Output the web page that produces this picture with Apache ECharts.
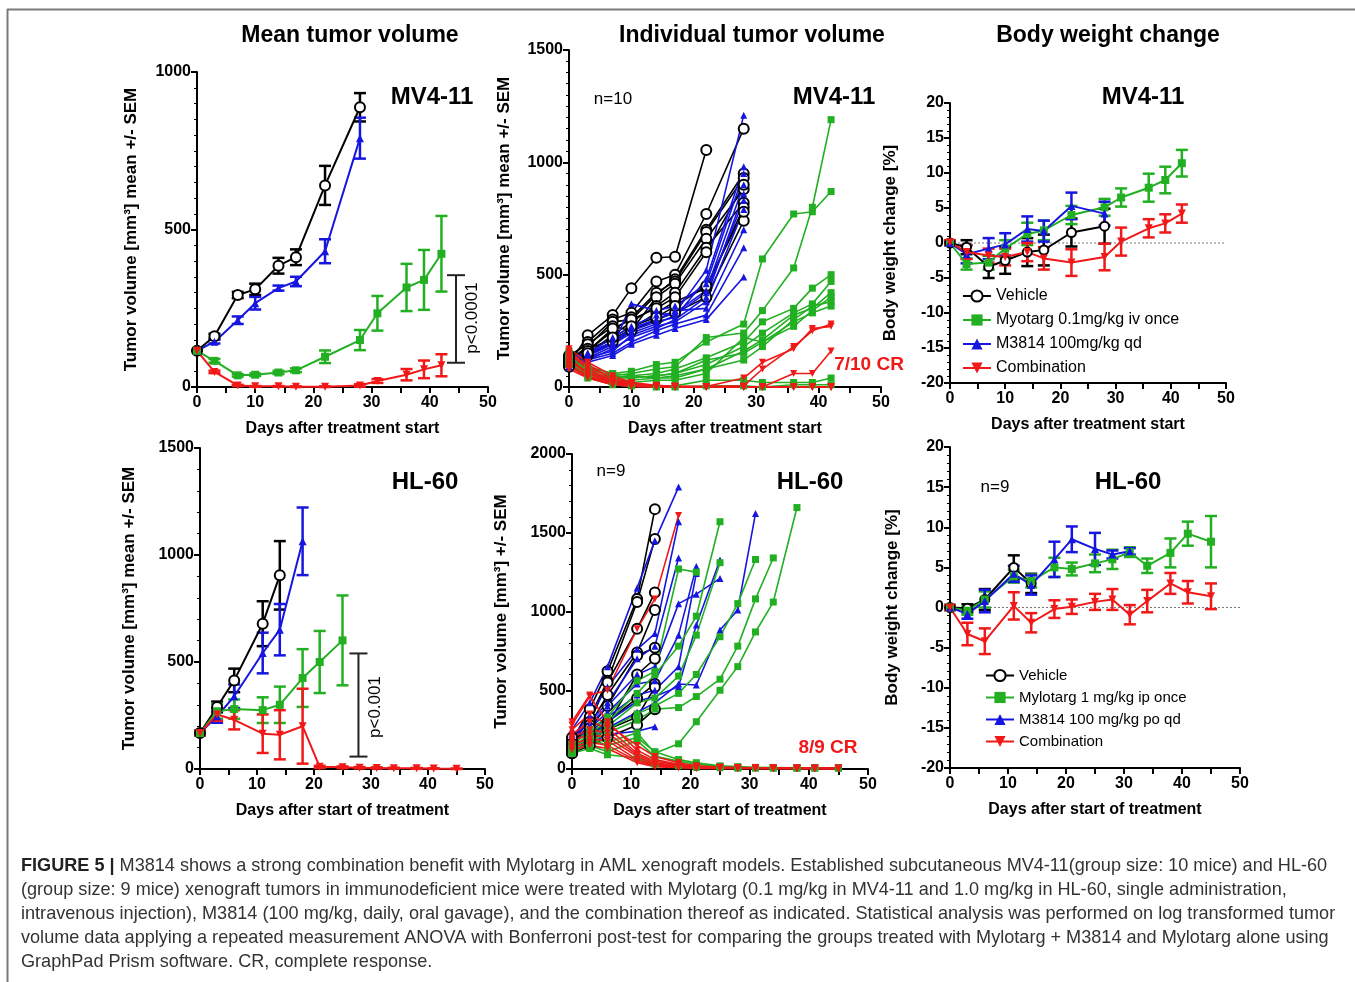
<!DOCTYPE html>
<html>
<head>
<meta charset="utf-8">
<script src="https://cdn.jsdelivr.net/npm/echarts@6/dist/echarts.min.js"></script>
<style>
  html, body { margin: 0; padding: 0; background: #fff; }
  #fig { width: 1355px; height: 982px; }
</style>
</head>
<body>
<div id="fig"></div>
<script>
// measurement days
const daysMV = [0, 3, 7, 10, 14, 17, 22, 28, 31, 36, 39, 42];
const daysHL = [0, 3, 6, 11, 14, 18, 21, 25, 28, 31, 34, 38, 41, 45];

// MV4-11 mean tumor volume (mm3) and SEM
const mvMeanVehicle = [115, 161, 292, 310, 385, 412, 640, 888];
const mvSemVehicle = [0, 8, 10, 18, 25, 25, 62, 45];
const mvMeanM3814 = [115, 144, 212, 266, 314, 335, 431, 790];
const mvSemM3814 = [0, 6, 12, 20, 8, 15, 38, 65];
const mvMeanMylotarg = [115, 83, 37, 39, 46, 53, 96, 149, 234, 316, 340, 423];
const mvSemMylotarg = [0, 6, 4, 4, 5, 6, 20, 32, 55, 75, 95, 120];
const mvMeanCombo = [115, 48, 5, 2, 2, 1, 1, 5, 19, 39, 56, 69];
const mvSemCombo = [0, 4, 2, 1, 1, 1, 1, 4, 6, 18, 28, 35];

// MV4-11 individual tumor volume, one row per mouse
const mvIndVehicle = [
  [100, 230, 320, 440, 575, 580, 1055],
  [130, 200, 300, 330, 470, 500, 770, 1150],
  [120, 180, 290, 300, 410, 480, 700, 950],
  [110, 160, 250, 310, 420, 470, 690, 930],
  [140, 190, 270, 250, 400, 460, 660, 880],
  [100, 150, 230, 290, 360, 420, 620, 820],
  [120, 170, 210, 260, 330, 380, 440, 800],
  [90, 140, 200, 250, 300, 330, 400, 740],
  [110, 160, 260, 300, 350, 400, 600, 900],
  [130, 150, 220, 270, 310, 360, 450, 780]
];
const mvIndM3814 = [
  [120, 150, 200, 260, 300, 330, 520, 1210],
  [110, 140, 190, 250, 290, 310, 480, 980],
  [100, 130, 180, 370, 340, 360, 460, 950],
  [130, 150, 220, 270, 320, 330, 430, 900],
  [90, 120, 170, 220, 260, 300, 400, 860],
  [110, 140, 190, 240, 280, 320, 420, 830],
  [100, 130, 160, 230, 270, 290, 380, 790],
  [120, 150, 200, 260, 300, 340, 350, 700],
  [100, 120, 150, 200, 250, 280, 320, 620],
  [90, 110, 140, 190, 230, 260, 300, 490]
];
const mvIndMylotarg = [
  [150, 90, 60, 70, 100, 110, 200, 280, 570, 770, 780, 870],
  [140, 80, 50, 60, 80, 90, 220, 240, 340, 530, 800, 1190],
  [130, 70, 40, 50, 60, 80, 130, 200, 290, 350, 440, 500],
  [120, 80, 50, 40, 50, 60, 100, 180, 240, 330, 370, 470],
  [110, 70, 30, 30, 40, 40, 80, 160, 210, 320, 350, 420],
  [100, 60, 40, 40, 50, 60, 120, 150, 200, 270, 340, 400],
  [160, 90, 60, 50, 40, 50, 80, 120, 180, 300, 360, 380],
  [120, 60, 30, 20, 30, 30, 60, 220, 200, 290, 330, 360],
  [110, 50, 20, 10, 5, 5, 30, 30, 20, 20, 20, 40],
  [100, 40, 10, 5, 0, 0, 5, 5, 0, 10, 10, 10]
];
const mvIndCombo = [
  [130, 60, 20, 10, 5, 3, 2, 40, 110, 170, 260, 270],
  [160, 90, 40, 15, 5, 3, 2, 5, 80, 180, 250, 280],
  [110, 70, 25, 10, 3, 2, 1, 0, 0, 60, 60, 160],
  [150, 80, 30, 10, 2, 1, 0, 0, 0, 0, 0, 0],
  [120, 60, 20, 5, 2, 0, 0, 0, 0, 0, 0, 0],
  [100, 50, 15, 5, 0, 0, 0, 0, 0, 0, 0, 0],
  [140, 100, 35, 15, 5, 2, 0, 0, 0, 0, 0, 0],
  [90, 45, 10, 3, 0, 0, 0, 0, 0, 0, 0, 0],
  [170, 110, 50, 20, 8, 3, 0, 0, 0, 0, 0, 0],
  [80, 40, 10, 2, 0, 0, 0, 0, 0, 0, 0, 0]
];

// MV4-11 body weight change (%) and SEM
const mvBwVehicle = [0, -0.6, -3.4, -2.5, -1.3, -1.0, 1.5, 2.4];
const mvBwSemVehicle = [0.3, 1.0, 1.6, 1.9, 2.0, 2.2, 2.0, 2.5];
const mvBwMylotarg = [0, -3.0, -2.8, -0.8, 1.3, 1.8, 4.0, 5.1, 6.5, 7.9, 9.0, 11.4];
const mvBwSemMylotarg = [0.3, 0.8, 1.0, 1.2, 1.6, 1.4, 1.3, 1.2, 1.3, 2.0, 1.9, 1.9];
const mvBwM3814 = [0, -1.6, -0.8, -0.2, 2.0, 1.7, 5.3, 4.2];
const mvBwSemM3814 = [0.3, 1.3, 1.5, 1.6, 1.8, 1.5, 1.9, 1.7];
const mvBwCombo = [0.1, -1.3, -1.8, -2.0, -1.3, -2.2, -2.8, -2.0, 0.2, 2.1, 2.8, 4.2];
const mvBwSemCombo = [0.3, 1.0, 1.0, 1.2, 1.3, 1.6, 1.9, 1.9, 2.0, 1.3, 1.3, 1.3];

// HL-60 mean tumor volume (mm3) and SEM
const hlMeanVehicle = [168, 290, 414, 679, 905];
const hlSemVehicle = [10, 25, 55, 105, 160];
const hlMeanM3814 = [168, 246, 340, 542, 651, 1064];
const hlSemM3814 = [10, 30, 55, 95, 120, 158];
const hlMeanMylotarg = [168, 270, 280, 275, 300, 425, 500, 601];
const hlSemMylotarg = [10, 35, 45, 60, 85, 135, 145, 210];
const hlMeanCombo = [168, 255, 230, 165, 160, 200, 10, 8, 6, 5, 4, 3, 2, 1];
const hlSemCombo = [10, 30, 45, 90, 115, 175, 5, 4, 3, 3, 2, 2, 1, 1];

// HL-60 individual tumor volume, one row per mouse
const hlIndVehicle = [
  [180, 380, 620, 1080, 1650],
  [150, 330, 560, 1060, 1460],
  [200, 300, 550, 890, 1120],
  [160, 280, 470, 740, 1010],
  [140, 260, 400, 720, 770],
  [120, 220, 300, 450, 540],
  [100, 180, 250, 330, 520],
  [130, 200, 280, 600, 700],
  [100, 150, 200, 280, 380]
];
const hlIndM3814 = [
  [250, 420, 650, 1150, 1450, 1790],
  [200, 340, 520, 760, 860, 1570],
  [180, 300, 420, 700, 780, 1340],
  [220, 280, 400, 600, 650, 1050, 1110, 1210],
  [150, 260, 360, 540, 560, 850, 1285],
  [170, 230, 330, 470, 500, 650, 1242],
  [140, 200, 300, 430, 460, 523, 914, 1327],
  [130, 190, 260, 360, 420, 540, 533, 882, 1010, 1623],
  [120, 160, 220, 240, 269]
];
const hlIndMylotarg = [
  [150, 250, 330, 560, 620, 1270, 1250],
  [130, 230, 300, 480, 600, 780, 970, 1570],
  [120, 210, 270, 420, 450, 590, 850, 1310],
  [110, 190, 250, 350, 400, 480, 600, 840, 1050, 1330],
  [100, 170, 230, 310, 380, 390, 460, 570, 780, 1080, 1340],
  [140, 200, 170, 230, 100, 160, 300, 500, 650, 870, 1060, 1660],
  [120, 150, 110, 180, 80, 50, 30, 15, 10, 10, 8, 8, 8, 8],
  [100, 130, 90, 70, 30, 20, 10, 8, 5, 5, 5, 5, 5, 5],
  [160, 190, 150, 200, 110, 60, 40, 20, 15, 10, 10, 8, 8, 8]
];
const hlIndCombo = [
  [300, 470, 500, 890, 1080, 1610],
  [280, 460, 300, 120, 60, 30, 15, 10, 8, 8, 6, 6, 5, 5],
  [250, 350, 280, 150, 80, 40, 20, 12, 10, 8, 6, 5, 5, 5],
  [220, 300, 260, 100, 50, 25, 12, 10, 8, 6, 5, 5, 4, 4],
  [200, 250, 230, 90, 40, 20, 10, 8, 6, 5, 5, 4, 4, 4],
  [180, 220, 200, 80, 30, 15, 8, 6, 5, 5, 4, 4, 3, 3],
  [160, 190, 180, 60, 25, 12, 6, 5, 5, 4, 4, 3, 3, 3],
  [140, 170, 150, 50, 20, 10, 5, 4, 4, 3, 3, 3, 2, 2],
  [120, 150, 130, 40, 15, 8, 4, 3, 3, 3, 2, 2, 2, 2]
];

// HL-60 body weight change (%) and SEM
const hlBwVehicle = [0, -0.1, 1.0, 5.0, 3.0];
const hlBwSemVehicle = [0.3, 0.5, 1.3, 1.5, 1.2];
const hlBwMylotarg = [0, -0.4, 1.0, 3.9, 3.3, 5.0, 4.8, 5.5, 6.0, 6.9, 5.2, 6.8, 9.2, 8.2];
const hlBwSemMylotarg = [0.3, 0.5, 1.0, 0.8, 0.8, 1.2, 0.8, 1.1, 1.2, 0.6, 0.9, 1.8, 1.5, 3.2];
const hlBwM3814 = [0, -0.8, 0.8, 4.2, 2.8, 6.0, 8.5, 7.3, 6.6, 7.0];
const hlBwSemM3814 = [0.3, 0.6, 1.4, 1.0, 1.2, 2.2, 1.6, 2.0, 0.5, 0.4];
const hlBwCombo = [0, -3.3, -4.2, 0.2, -1.9, -0.2, 0.1, 0.7, 1.0, -0.9, 0.8, 3.0, 1.9, 1.4];
const hlBwSemCombo = [0.3, 1.4, 1.6, 1.7, 1.2, 1.1, 0.9, 1.0, 1.3, 1.2, 1.4, 1.3, 1.4, 1.6];

// significance brackets: [day, low, high]
const mvBracket = [[44.5, 77, 355]];
const hlBracket = [[27.8, 58, 540]];

const legendMV = ['Vehicle', 'Myotarg 0.1mg/kg iv once', 'M3814 100mg/kg qd', 'Combination'];
const legendHL = ['Vehicle', 'Mylotarg 1 mg/kg ip once', 'M3814 100 mg/kg po qd', 'Combination'];

const captionLines = [
  '{b|FIGURE 5 |} M3814 shows a strong combination benefit with Mylotarg in AML xenograft models. Established subcutaneous MV4-11(group size: 10 mice) and HL-60',
  '(group size: 9 mice) xenograft tumors in immunodeficient mice were treated with Mylotarg (0.1 mg/kg in MV4-11 and 1.0 mg/kg in HL-60, single administration,',
  'intravenous injection), M3814 (100 mg/kg, daily, oral gavage), and the combination thereof as indicated. Statistical analysis was performed on log transformed tumor',
  'volume data applying a repeated measurement ANOVA with Bonferroni post-test for comparing the groups treated with Mylotarg + M3814 and Mylotarg alone using',
  'GraphPad Prism software. CR, complete response.'
];

const FONT = 'Liberation Sans, Arial, sans-serif';
const BLACK = '#000000', GREEN = '#22b022', BLUE = '#1616e0', RED = '#f01818';
const DOWN_TRI = 'path://M0,0L10,0L5,9Z';

const grp = {
  vehicle: { color: BLACK, symbol: 'emptyCircle', bw: 2 },
  mylotarg: { color: GREEN, symbol: 'rect', bw: 0 },
  m3814: { color: BLUE, symbol: 'triangle', bw: 0 },
  combo: { color: RED, symbol: DOWN_TRI, bw: 0 }
};

function pts(days, vals) {
  return vals.map((v, i) => [days[i], v]);
}
function errPts(days, vals, sem) {
  return vals.map((v, i) => [days[i], v - sem[i], v + sem[i]]);
}

function errRender(capHalf, lw) {
  return function (params, api) {
    const x = api.value(0);
    const lo = api.coord([x, api.value(1)]);
    const hi = api.coord([x, api.value(2)]);
    const st = { stroke: api.visual('color'), lineWidth: lw };
    return {
      type: 'group',
      children: [
        { type: 'line', shape: { x1: lo[0], y1: lo[1], x2: hi[0], y2: hi[1] }, style: st },
        { type: 'line', shape: { x1: hi[0] - capHalf, y1: hi[1], x2: hi[0] + capHalf, y2: hi[1] }, style: st },
        { type: 'line', shape: { x1: lo[0] - capHalf, y1: lo[1], x2: lo[0] + capHalf, y2: lo[1] }, style: st }
      ]
    };
  };
}

const series = [];

function meanGroup(gi, name, g, days, vals, sem, size, cap) {
  series.push({
    name: name, type: 'line', xAxisIndex: gi, yAxisIndex: gi, silent: true,
    data: pts(days, vals), symbol: g.symbol, symbolSize: size, z: 3,
    lineStyle: { color: g.color, width: 2 },
    itemStyle: { color: g.color, borderColor: g.color, borderWidth: g.bw }
  });
  series.push({
    name: name + ' SEM', type: 'custom', xAxisIndex: gi, yAxisIndex: gi, silent: true,
    renderItem: errRender(cap, 2.5), itemStyle: { color: g.color }, z: 2,
    encode: { x: 0, y: [1, 2] }, data: errPts(days, vals, sem), clip: false
  });
}

function indGroup(gi, key, g, days, rows, size) {
  rows.forEach((vals, k) => {
    series.push({
      name: key + k, type: 'line', xAxisIndex: gi, yAxisIndex: gi, silent: true,
      data: pts(days, vals), symbol: g.symbol, symbolSize: g.symbol === 'emptyCircle' ? size + 2 : size,
      lineStyle: { color: g.color, width: 1.6 },
      itemStyle: { color: g.color, borderColor: g.color, borderWidth: g.bw }
    });
  });
}

function zeroLine(gi) {
  series.push({
    name: 'zero' + gi, type: 'line', xAxisIndex: gi, yAxisIndex: gi, silent: true,
    data: [[0, 0], [50, 0]], symbol: 'none', z: 1,
    lineStyle: { color: '#777', width: 1, type: [2, 2] }
  });
}

function bracket(gi, data) {
  series.push({
    name: 'bracket' + gi, type: 'custom', xAxisIndex: gi, yAxisIndex: gi, silent: true,
    renderItem: errRender(9, 2), itemStyle: { color: '#222' },
    encode: { x: 0, y: [1, 2] }, data: data
  });
}

// panel 0: MV4-11 mean
meanGroup(0, 'mvMeanVehicle', grp.vehicle, daysMV, mvMeanVehicle, mvSemVehicle, 10, 6);
meanGroup(0, 'mvMeanM3814', grp.m3814, daysMV, mvMeanM3814, mvSemM3814, 8, 6);
meanGroup(0, 'mvMeanMylotarg', grp.mylotarg, daysMV, mvMeanMylotarg, mvSemMylotarg, 8, 6);
meanGroup(0, 'mvMeanCombo', grp.combo, daysMV, mvMeanCombo, mvSemCombo, 8, 6);
bracket(0, mvBracket);
// panel 1: MV4-11 individual
indGroup(1, 'mvIndVehicle', grp.vehicle, daysMV, mvIndVehicle, 8);
indGroup(1, 'mvIndM3814', grp.m3814, daysMV, mvIndM3814, 7);
indGroup(1, 'mvIndMylotarg', grp.mylotarg, daysMV, mvIndMylotarg, 7);
indGroup(1, 'mvIndCombo', grp.combo, daysMV, mvIndCombo, 7);
// panel 2: MV4-11 body weight
zeroLine(2);
meanGroup(2, legendMV[0], grp.vehicle, daysMV, mvBwVehicle, mvBwSemVehicle, 9, 6);
meanGroup(2, legendMV[1], grp.mylotarg, daysMV, mvBwMylotarg, mvBwSemMylotarg, 8, 6);
meanGroup(2, legendMV[2], grp.m3814, daysMV, mvBwM3814, mvBwSemM3814, 8, 6);
meanGroup(2, legendMV[3], grp.combo, daysMV, mvBwCombo, mvBwSemCombo, 8, 6);
// panel 3: HL-60 mean
meanGroup(3, 'hlMeanVehicle', grp.vehicle, daysHL, hlMeanVehicle, hlSemVehicle, 10, 6);
meanGroup(3, 'hlMeanM3814', grp.m3814, daysHL, hlMeanM3814, hlSemM3814, 8, 6);
meanGroup(3, 'hlMeanMylotarg', grp.mylotarg, daysHL, hlMeanMylotarg, hlSemMylotarg, 8, 6);
meanGroup(3, 'hlMeanCombo', grp.combo, daysHL, hlMeanCombo, hlSemCombo, 8, 6);
bracket(3, hlBracket);
// panel 4: HL-60 individual
indGroup(4, 'hlIndVehicle', grp.vehicle, daysHL, hlIndVehicle, 8);
indGroup(4, 'hlIndM3814', grp.m3814, daysHL, hlIndM3814, 7);
indGroup(4, 'hlIndMylotarg', grp.mylotarg, daysHL, hlIndMylotarg, 7);
indGroup(4, 'hlIndCombo', grp.combo, daysHL, hlIndCombo, 7);
// panel 5: HL-60 body weight
zeroLine(5);
meanGroup(5, legendHL[0], grp.vehicle, daysHL, hlBwVehicle, hlBwSemVehicle, 9, 6);
meanGroup(5, legendHL[1], grp.mylotarg, daysHL, hlBwMylotarg, hlBwSemMylotarg, 8, 6);
meanGroup(5, legendHL[2], grp.m3814, daysHL, hlBwM3814, hlBwSemM3814, 8, 6);
meanGroup(5, legendHL[3], grp.combo, daysHL, hlBwCombo, hlBwSemCombo, 8, 6);

// grid boxes: left, top, width, height (px)
const boxes = [
  [197, 72, 291, 315],
  [569, 50, 312, 337],
  [950, 103, 276, 280],
  [200, 448, 285, 321],
  [572, 454, 296, 315],
  [950, 447, 290, 321]
];
const yRanges = [
  { min: 0, max: 1000, interval: 500, minor: 10 },
  { min: 0, max: 1500, interval: 500, minor: 10 },
  { min: -20, max: 20, interval: 5, minor: 5 },
  { min: 0, max: 1500, interval: 500, minor: 5 },
  { min: 0, max: 2000, interval: 500, minor: 5 },
  { min: -20, max: 20, interval: 5, minor: 5 }
];
const yNames = [
  'Tumor volume [mm³] mean +/- SEM',
  'Tumor volume [mm³] mean +/- SEM',
  'Body weight change [%]',
  'Tumor volume [mm³] mean +/- SEM',
  'Tumor volume [mm³] +/- SEM',
  'Body weight change [%]'
];
const yGaps = [57, 56, 51, 62, 62, 49];
const xNames = [
  'Days after treatment start', 'Days after treatment start', 'Days after treatment start',
  'Days after start of treatment', 'Days after start of treatment', 'Days after start of treatment'
];

const axisLine = { show: true, onZero: false, lineStyle: { color: '#000', width: 2 } };
const axisTick = { show: true, length: 6, lineStyle: { color: '#000', width: 2 } };
const label = { color: '#000', fontSize: 16, fontWeight: 'bold', fontFamily: FONT, formatter: v => String(v) };

const option = {
  animation: false,
  backgroundColor: '#fff',
  textStyle: { fontFamily: FONT },
  grid: boxes.map(b => ({ left: b[0], top: b[1], width: b[2], height: b[3] })),
  xAxis: boxes.map((b, i) => ({
    type: 'value', gridIndex: i, min: 0, max: 50, interval: 10,
    axisLine: axisLine, axisTick: axisTick,
    minorTick: { show: true, splitNumber: 2, length: 6, lineStyle: { color: '#000', width: 2 } },
    splitLine: { show: false },
    axisLabel: Object.assign({ margin: 8 }, label),
    name: xNames[i], nameLocation: 'middle', nameGap: 34,
    nameTextStyle: { color: '#000', fontSize: 16, fontWeight: 'bold', fontFamily: FONT }
  })),
  yAxis: boxes.map((b, i) => ({
    type: 'value', gridIndex: i, min: yRanges[i].min, max: yRanges[i].max, interval: yRanges[i].interval,
    axisLine: axisLine, axisTick: axisTick,
    minorTick: { show: true, splitNumber: yRanges[i].minor, length: 3, lineStyle: { color: '#000', width: 1 } },
    splitLine: { show: false },
    axisLabel: Object.assign({ margin: 6 }, label),
    name: yNames[i], nameLocation: 'middle', nameGap: yGaps[i], nameRotate: 90,
    nameTextStyle: { color: '#000', fontSize: 17, fontWeight: 'bold', fontFamily: FONT }
  })),
  legend: [
    {
      data: legendMV, orient: 'vertical', left: 957, top: 283, itemGap: 8, itemWidth: 28, itemHeight: 14,
      selectedMode: false, textStyle: { color: '#000', fontSize: 16, fontFamily: FONT }
    },
    {
      data: legendHL, orient: 'vertical', left: 980, top: 663, itemGap: 7, itemWidth: 28, itemHeight: 14,
      selectedMode: false, textStyle: { color: '#000', fontSize: 15, fontFamily: FONT }
    }
  ],
  series: series,
  graphic: []
};

function txt(x, y, s, font, color, rot) {
  option.graphic.push({
    type: 'text', x: x, y: y, rotation: rot || 0, silent: true,
    style: { text: s, font: font, fill: color || '#000', textAlign: 'center', textVerticalAlign: 'middle', align: 'center', verticalAlign: 'middle' }
  });
}

// frame
option.graphic.push({ type: 'line', silent: true, shape: { x1: 7, y1: 9.5, x2: 1355, y2: 9.5 }, style: { stroke: '#7a7a7a', lineWidth: 2 } });
option.graphic.push({ type: 'line', silent: true, shape: { x1: 7.5, y1: 9, x2: 7.5, y2: 982 }, style: { stroke: '#7a7a7a', lineWidth: 2 } });

txt(350, 36, 'Mean tumor volume', 'bold 23px ' + FONT);
txt(752, 36, 'Individual tumor volume', 'bold 23px ' + FONT);
txt(1108, 36, 'Body weight change', 'bold 23px ' + FONT);

txt(432, 97, 'MV4-11', 'bold 24px ' + FONT);
txt(834, 97, 'MV4-11', 'bold 24px ' + FONT);
txt(1143, 97, 'MV4-11', 'bold 24px ' + FONT);
txt(425, 482, 'HL-60', 'bold 24px ' + FONT);
txt(810, 482, 'HL-60', 'bold 24px ' + FONT);
txt(1128, 482, 'HL-60', 'bold 24px ' + FONT);

txt(613, 99, 'n=10', '17px ' + FONT);
txt(611, 471, 'n=9', '17px ' + FONT);
txt(995, 487, 'n=9', '17px ' + FONT);

txt(869, 365, '7/10 CR', 'bold 19px ' + FONT, RED);
txt(828, 748, '8/9 CR', 'bold 19px ' + FONT, RED);

txt(472, 318, 'p<0.0001', '17px ' + FONT, '#000', Math.PI / 2);
txt(375, 707, 'p<0.001', '17px ' + FONT, '#000', Math.PI / 2);

captionLines.forEach((line, i) => {
  option.graphic.push({
    type: 'text', x: 21, y: 866 + i * 24, silent: true,
    style: {
      text: line, font: '18.1px ' + FONT, fill: '#333',
      textAlign: 'left', textVerticalAlign: 'middle', align: 'left', verticalAlign: 'middle',
      rich: { b: { fontWeight: 'bold', fontSize: 18.1, fontFamily: FONT, fill: '#222' } }
    }
  });
});

const chart = echarts.init(document.getElementById('fig'), null, { renderer: 'canvas' });
chart.setOption(option);
</script>
</body>
</html>
